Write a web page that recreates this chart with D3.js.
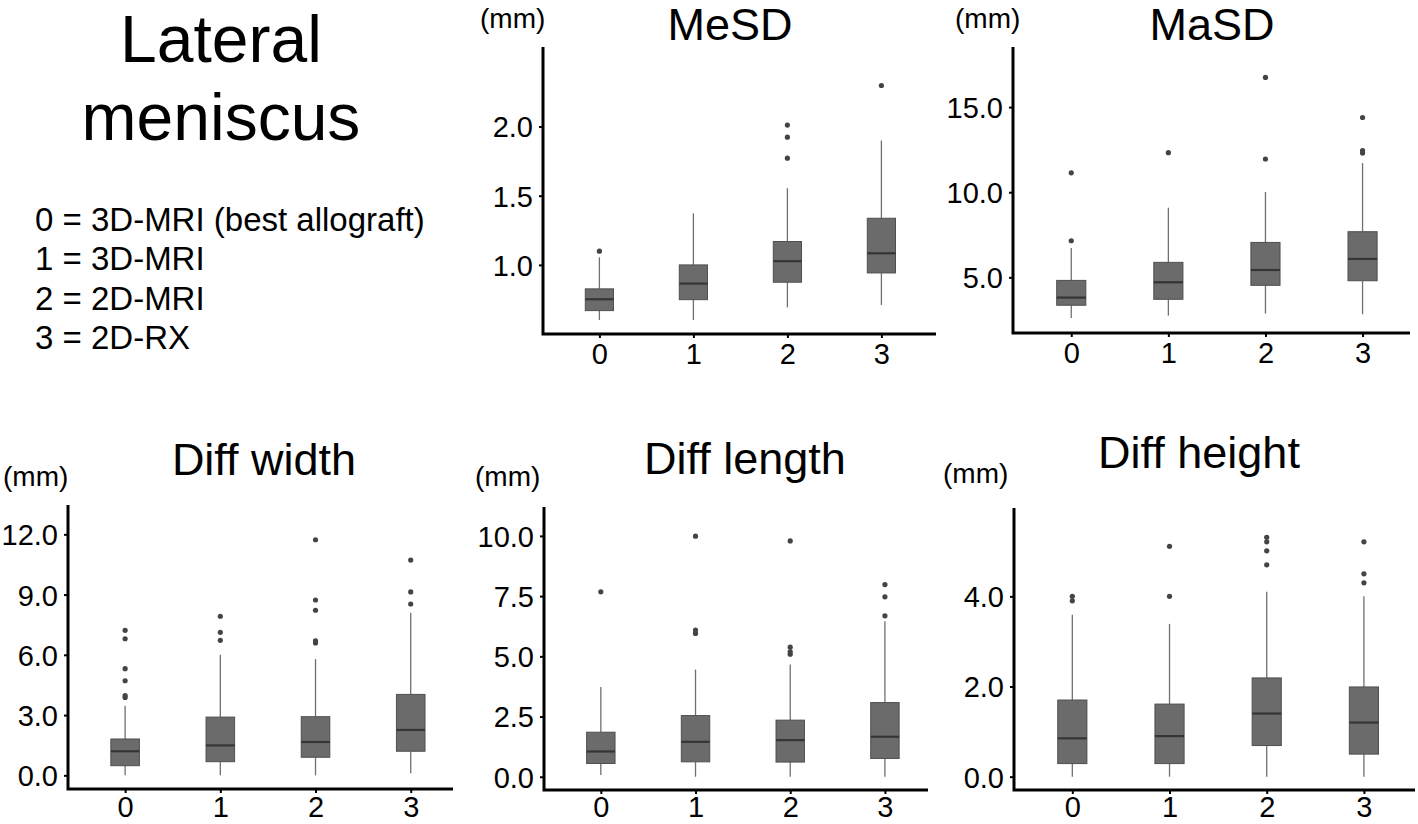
<!DOCTYPE html>
<html><head><meta charset="utf-8">
<script src="https://cdn.jsdelivr.net/npm/d3@7"></script>
<style>
body{margin:0;background:#fff;}
text{font-family:"Liberation Sans",Arial,Helvetica,sans-serif;fill:#000;}
</style>
</head><body>
<svg id="c" width="1418" height="824"></svg>
<script>
// ---------- DATA ----------
const categories = ["0", "1", "2", "3"];
const mainTitle = ["Lateral", "meniscus"];
const legendLines = ["0 = 3D-MRI (best allograft)", "1 = 3D-MRI", "2 = 2D-MRI", "3 = 2D-RX"];
const unitLabel = "(mm)";
const panelTitles = ["MeSD", "MaSD", "Diff width", "Diff length", "Diff height"];

// box stats per category: [lower whisker, Q1, median, Q3, upper whisker]
const mesdStats = [[0.602, 0.670, 0.752, 0.827, 1.055], [0.602, 0.749, 0.865, 1.000, 1.373], [0.694, 0.875, 1.027, 1.169, 1.554], [0.711, 0.942, 1.084, 1.337, 1.899]];
const mesdOutliers = [[1.099], [], [1.771, 1.923, 2.010], [2.296]];
const mesdTicks = [1.0, 1.5, 2.0];

const masdStats = [[2.61, 3.36, 3.81, 4.82, 6.72], [2.75, 3.71, 4.71, 5.88, 9.09], [2.87, 4.53, 5.43, 7.05, 10.01], [2.83, 4.80, 6.08, 7.68, 11.71]];
const masdOutliers = [[7.15, 11.14], [12.32], [11.95, 16.74], [12.30, 12.45, 14.39]];
const masdTicks = [5.0, 10.0, 15.0];

const widthStats = [[0.00, 0.48, 1.20, 1.81, 3.47], [0.00, 0.68, 1.49, 2.90, 6.01], [0.00, 0.90, 1.66, 2.92, 5.79], [0.10, 1.20, 2.26, 4.03, 8.10]];
const widthOutliers = [[3.88, 3.97, 4.71, 5.31, 6.80, 7.22], [6.72, 7.12, 7.92], [6.59, 6.69, 8.22, 8.73, 11.73], [8.53, 9.13, 10.72]];
const widthTicks = [0, 3, 6, 9, 12];

const lengthStats = [[0.07, 0.55, 1.05, 1.85, 3.73], [0.00, 0.62, 1.45, 2.54, 4.45], [0.00, 0.61, 1.52, 2.35, 4.66], [0.00, 0.76, 1.66, 3.08, 6.46]];
const lengthOutliers = [[7.68], [5.95, 6.09, 9.99], [5.09, 5.19, 5.38, 9.79], [6.68, 7.47, 7.98]];
const lengthTicks = [0, 2.5, 5, 7.5, 10];

const heightStats = [[0.00, 0.29, 0.85, 1.70, 3.59], [0.00, 0.29, 0.90, 1.61, 3.39], [0.00, 0.69, 1.40, 2.19, 4.10], [0.00, 0.50, 1.20, 1.99, 4.00]];
const heightOutliers = [[3.90, 4.00], [4.00, 5.11], [4.70, 5.01, 5.21, 5.31], [4.30, 4.50, 5.21]];
const heightTicks = [0, 2, 4];

// ---------- LAYOUT ----------
const panels = [
  {stats: mesdStats, outliers: mesdOutliers, ticks: mesdTicks, title: panelTitles[0],
   axX: 543, axY: 334, top: 47, yDomain: [0.501, 2.574], step: 94.0, xEnd: 936,
   titleX: 730, titleY: 40, mmX: 480, mmY: 28, xPad: 5},
  {stats: masdStats, outliers: masdOutliers, ticks: masdTicks, title: panelTitles[1],
   axX: 1013, axY: 333, top: 47, yDomain: [1.73, 18.53], step: 97.1, xEnd: 1410,
   titleX: 1212, titleY: 40, mmX: 955, mmY: 28, xPad: 5},
  {stats: widthStats, outliers: widthOutliers, ticks: widthTicks, title: panelTitles[2],
   axX: 68, axY: 789, top: 505, yDomain: [-0.68, 13.46], step: 95.2, xEnd: 453,
   titleX: 264, titleY: 475, mmX: 3, mmY: 486, xPad: 3},
  {stats: lengthStats, outliers: lengthOutliers, ticks: lengthTicks, title: panelTitles[3],
   axX: 544, axY: 790, top: 507, yDomain: [-0.55, 11.2], step: 94.7, xEnd: 928,
   titleX: 745, titleY: 474, mmX: 475, mmY: 486, xPad: 2},
  {stats: heightStats, outliers: heightOutliers, ticks: heightTicks, title: panelTitles[4],
   axX: 1014, axY: 790, top: 508, yDomain: [-0.296, 5.96], step: 97.2, xEnd: 1415,
   titleX: 1199, titleY: 468, mmX: 943, mmY: 483, xPad: 2}
];

const svg = d3.select("#c");

// main title + legend
svg.selectAll("text.mt").data(mainTitle).join("text").attr("class", "mt")
  .attr("x", 221).attr("y", (d, i) => 62 + i * 78)
  .attr("text-anchor", "middle").style("font-size", "66px").text(d => d);
svg.selectAll("text.lg").data(legendLines).join("text").attr("class", "lg")
  .attr("x", 35).attr("y", (d, i) => 231 + i * 39.3)
  .style("font-size", "33px").text(d => d);

panels.forEach(p => {
  const g = svg.append("g");
  const x = d3.scalePoint().domain(categories)
    .range([p.axX, p.axX + 4.2 * p.step]).padding(0.6);
  const y = d3.scaleLinear().domain(p.yDomain).range([p.axY, p.top]);
  const bw = p.step * 0.3;

  // titles
  g.append("text").attr("x", p.titleX).attr("y", p.titleY).attr("text-anchor", "middle")
    .style("font-size", "45px").text(p.title);
  g.append("text").attr("x", p.mmX).attr("y", p.mmY).style("font-size", "28px").text(unitLabel);

  // y axis ticks
  const ya = g.append("g").attr("transform", `translate(${p.axX},0)`)
    .call(d3.axisLeft(y).tickValues(p.ticks).tickFormat(d3.format(".1f")).tickSize(4).tickPadding(6));
  ya.select(".domain").remove();
  ya.selectAll("line").attr("stroke", "#000").attr("stroke-width", 2);
  ya.selectAll("text").style("font-size", "29px").attr("fill", "#000").attr("dy", "0.36em");

  // x axis ticks
  const xa = g.append("g").attr("transform", `translate(0,${p.axY})`)
    .call(d3.axisBottom(x).tickSize(4).tickPadding(p.xPad));
  xa.select(".domain").remove();
  xa.selectAll("line").attr("stroke", "#000").attr("stroke-width", 2);
  xa.selectAll("text").style("font-size", "29px").attr("fill", "#000");

  // boxes
  const data = categories.map((c, i) => ({c, s: p.stats[i], o: p.outliers[i]}));
  const bx = g.selectAll("g.box").data(data).join("g").attr("class", "box");
  bx.append("line").attr("x1", d => x(d.c)).attr("x2", d => x(d.c))
    .attr("y1", d => y(d.s[0])).attr("y2", d => y(d.s[1]))
    .attr("stroke", "#707070").attr("stroke-width", 1.3);
  bx.append("line").attr("x1", d => x(d.c)).attr("x2", d => x(d.c))
    .attr("y1", d => y(d.s[3])).attr("y2", d => y(d.s[4]))
    .attr("stroke", "#707070").attr("stroke-width", 1.3);
  bx.append("rect").attr("x", d => x(d.c) - bw / 2).attr("width", bw)
    .attr("y", d => y(d.s[3])).attr("height", d => y(d.s[1]) - y(d.s[3]))
    .attr("fill", "#6b6b6b").attr("stroke", "#4f4f4f").attr("stroke-width", 1);
  bx.append("line").attr("x1", d => x(d.c) - bw / 2).attr("x2", d => x(d.c) + bw / 2)
    .attr("y1", d => y(d.s[2])).attr("y2", d => y(d.s[2]))
    .attr("stroke", "#353535").attr("stroke-width", 2.2);
  bx.selectAll("circle").data(d => d.o.map(v => ({c: d.c, v}))).join("circle")
    .attr("cx", d => x(d.c)).attr("cy", d => y(d.v)).attr("r", 2.6).attr("fill", "#444");

  // axis lines
  g.append("path").attr("d", `M${p.axX},${p.top}V${p.axY}H${p.xEnd}`)
    .attr("fill", "none").attr("stroke", "#000").attr("stroke-width", 3);
});
</script>
</body></html>
